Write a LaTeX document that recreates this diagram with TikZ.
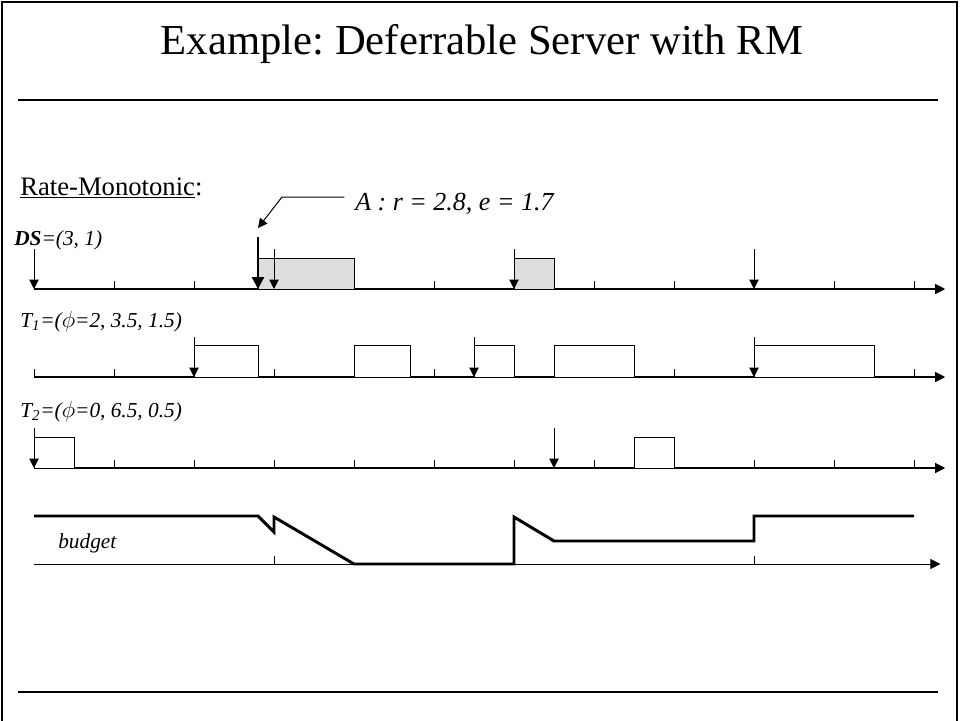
\documentclass[tikz,border=0pt]{standalone}
\usepackage{fontspec}
\setmainfont{Liberation Serif}
\usetikzlibrary{arrows.meta,positioning}
\frenchspacing
\definecolor{busy}{gray}{0.87}
\tikzset{
  frame/.style={line width=1.5pt},
  rule/.style={line width=2pt},
  axis/.style={line width=0.9pt,-{Triangle[length=7.5pt,width=7.5pt]}},
  budgetaxis/.style={axis,line width=0.6pt},
  tick/.style={line width=0.6pt},
  release/.style={line width=0.75pt,-{Triangle[length=7pt,width=7pt]}},
  arrival/.style={line width=1.8pt,-{Triangle[length=9pt,width=9pt]}},
  job/.style={draw,line width=0.75pt,fill=white},
  dsjob/.style={job,fill=busy},
  budgetline/.style={line width=2.2pt,line join=miter},
  lbl/.style={anchor=base west,inner sep=0pt,font=\fontsize{16}{19}\selectfont\itshape}
}

\begin{document}
\begin{tikzpicture}[x=0.75pt,y=-0.75pt]
        \useasboundingbox (0,0) rectangle (961,721);
        %frame
        \draw[frame] (2,721) -- (2,2) -- (957,2) -- (957,721);
        \draw[rule] (18,100) -- (938,100);
        \draw[rule] (18,692) -- (938,692);
        %texts
        \node[anchor=base,inner sep=0pt,font=\fontsize{32}{38}\selectfont] (title) at (482,54) {Example: Deferrable Server with RM};
        \node[anchor=base west,inner sep=0pt,font=\fontsize{20}{24}\selectfont] (rm) at (20,195) {\underline{Rate-Monotonic}:};
        \node[lbl,font=\fontsize{19.5}{23}\selectfont\itshape] (alabel) at (355,210) {A : r = 2.8, e = 1.7};
        \node[lbl] (dslabel) at (14,245) {\textbf{DS}=(3, 1)};
        \node[lbl] (tonelabel) at (20,327) {T\textsubscript{1}=($\phi$=2, 3.5, 1.5)};
        \node[lbl] (ttwolabel) at (20,417) {T\textsubscript{2}=($\phi$=0, 6.5, 0.5)};
        \node[lbl] (budgetlabel) at (58,548) {budget};
        \begin{scope}[x=60pt,xshift=25.5pt]
          %server DS
          \foreach \t in {1,2,5,7,8,10,11} \draw[tick] (\t,289) -- (\t,281);
          \draw[axis] (0,289) -- (11.39,289);
          \draw[dsjob] (2.8,289) rectangle (4,258);
          \draw[dsjob] (6,289) rectangle (6.5,258);
          \foreach \t in {0,3,6,9} \draw[release] (\t,249) -- (\t,289);
          \draw[arrival] (2.8,237) -- (2.8,289);
          \coordinate (atip) at (2.8,228);
          \coordinate (abend) at (3.1,197);
          \coordinate (astart) at (3.88,197);
          \draw[release] (astart) -- (abend) -- (atip);
          %task T1
          \foreach \t in {0,1,3,5,8,11} \draw[tick] (\t,377) -- (\t,369);
          \draw[axis] (0,377) -- (11.39,377);
          \draw[job] (2,377) rectangle (2.8,345);
          \draw[job] (4,377) rectangle (4.7,345);
          \draw[job] (5.5,377) rectangle (6,345);
          \draw[job] (6.5,377) rectangle (7.5,345);
          \draw[job] (9,377) rectangle (10.5,345);
          \foreach \t in {2,5.5,9} \draw[release] (\t,337) -- (\t,377);
          %task T2
          \foreach \t in {1,2,3,4,5,6,7,9,10,11} \draw[tick] (\t,468) -- (\t,460);
          \draw[axis] (0,468) -- (11.39,468);
          \draw[job] (0,468) rectangle (0.5,437);
          \draw[job] (7.5,468) rectangle (8,437);
          \foreach \t in {0,6.5} \draw[release] (\t,428) -- (\t,468);
          %budget
          \foreach \t in {3,9} \draw[tick] (\t,564) -- (\t,556);
          \draw[budgetaxis] (0,564) -- (11.33,564);
          \draw[budgetline] (0,516) -- (2.8,516) -- (3,532) -- (3,517) -- (4,564) -- (6,564) -- (6,517) -- (6.5,541) -- (9,541) -- (9,516) -- (11,516);
        \end{scope}
\end{tikzpicture}
\end{document}
